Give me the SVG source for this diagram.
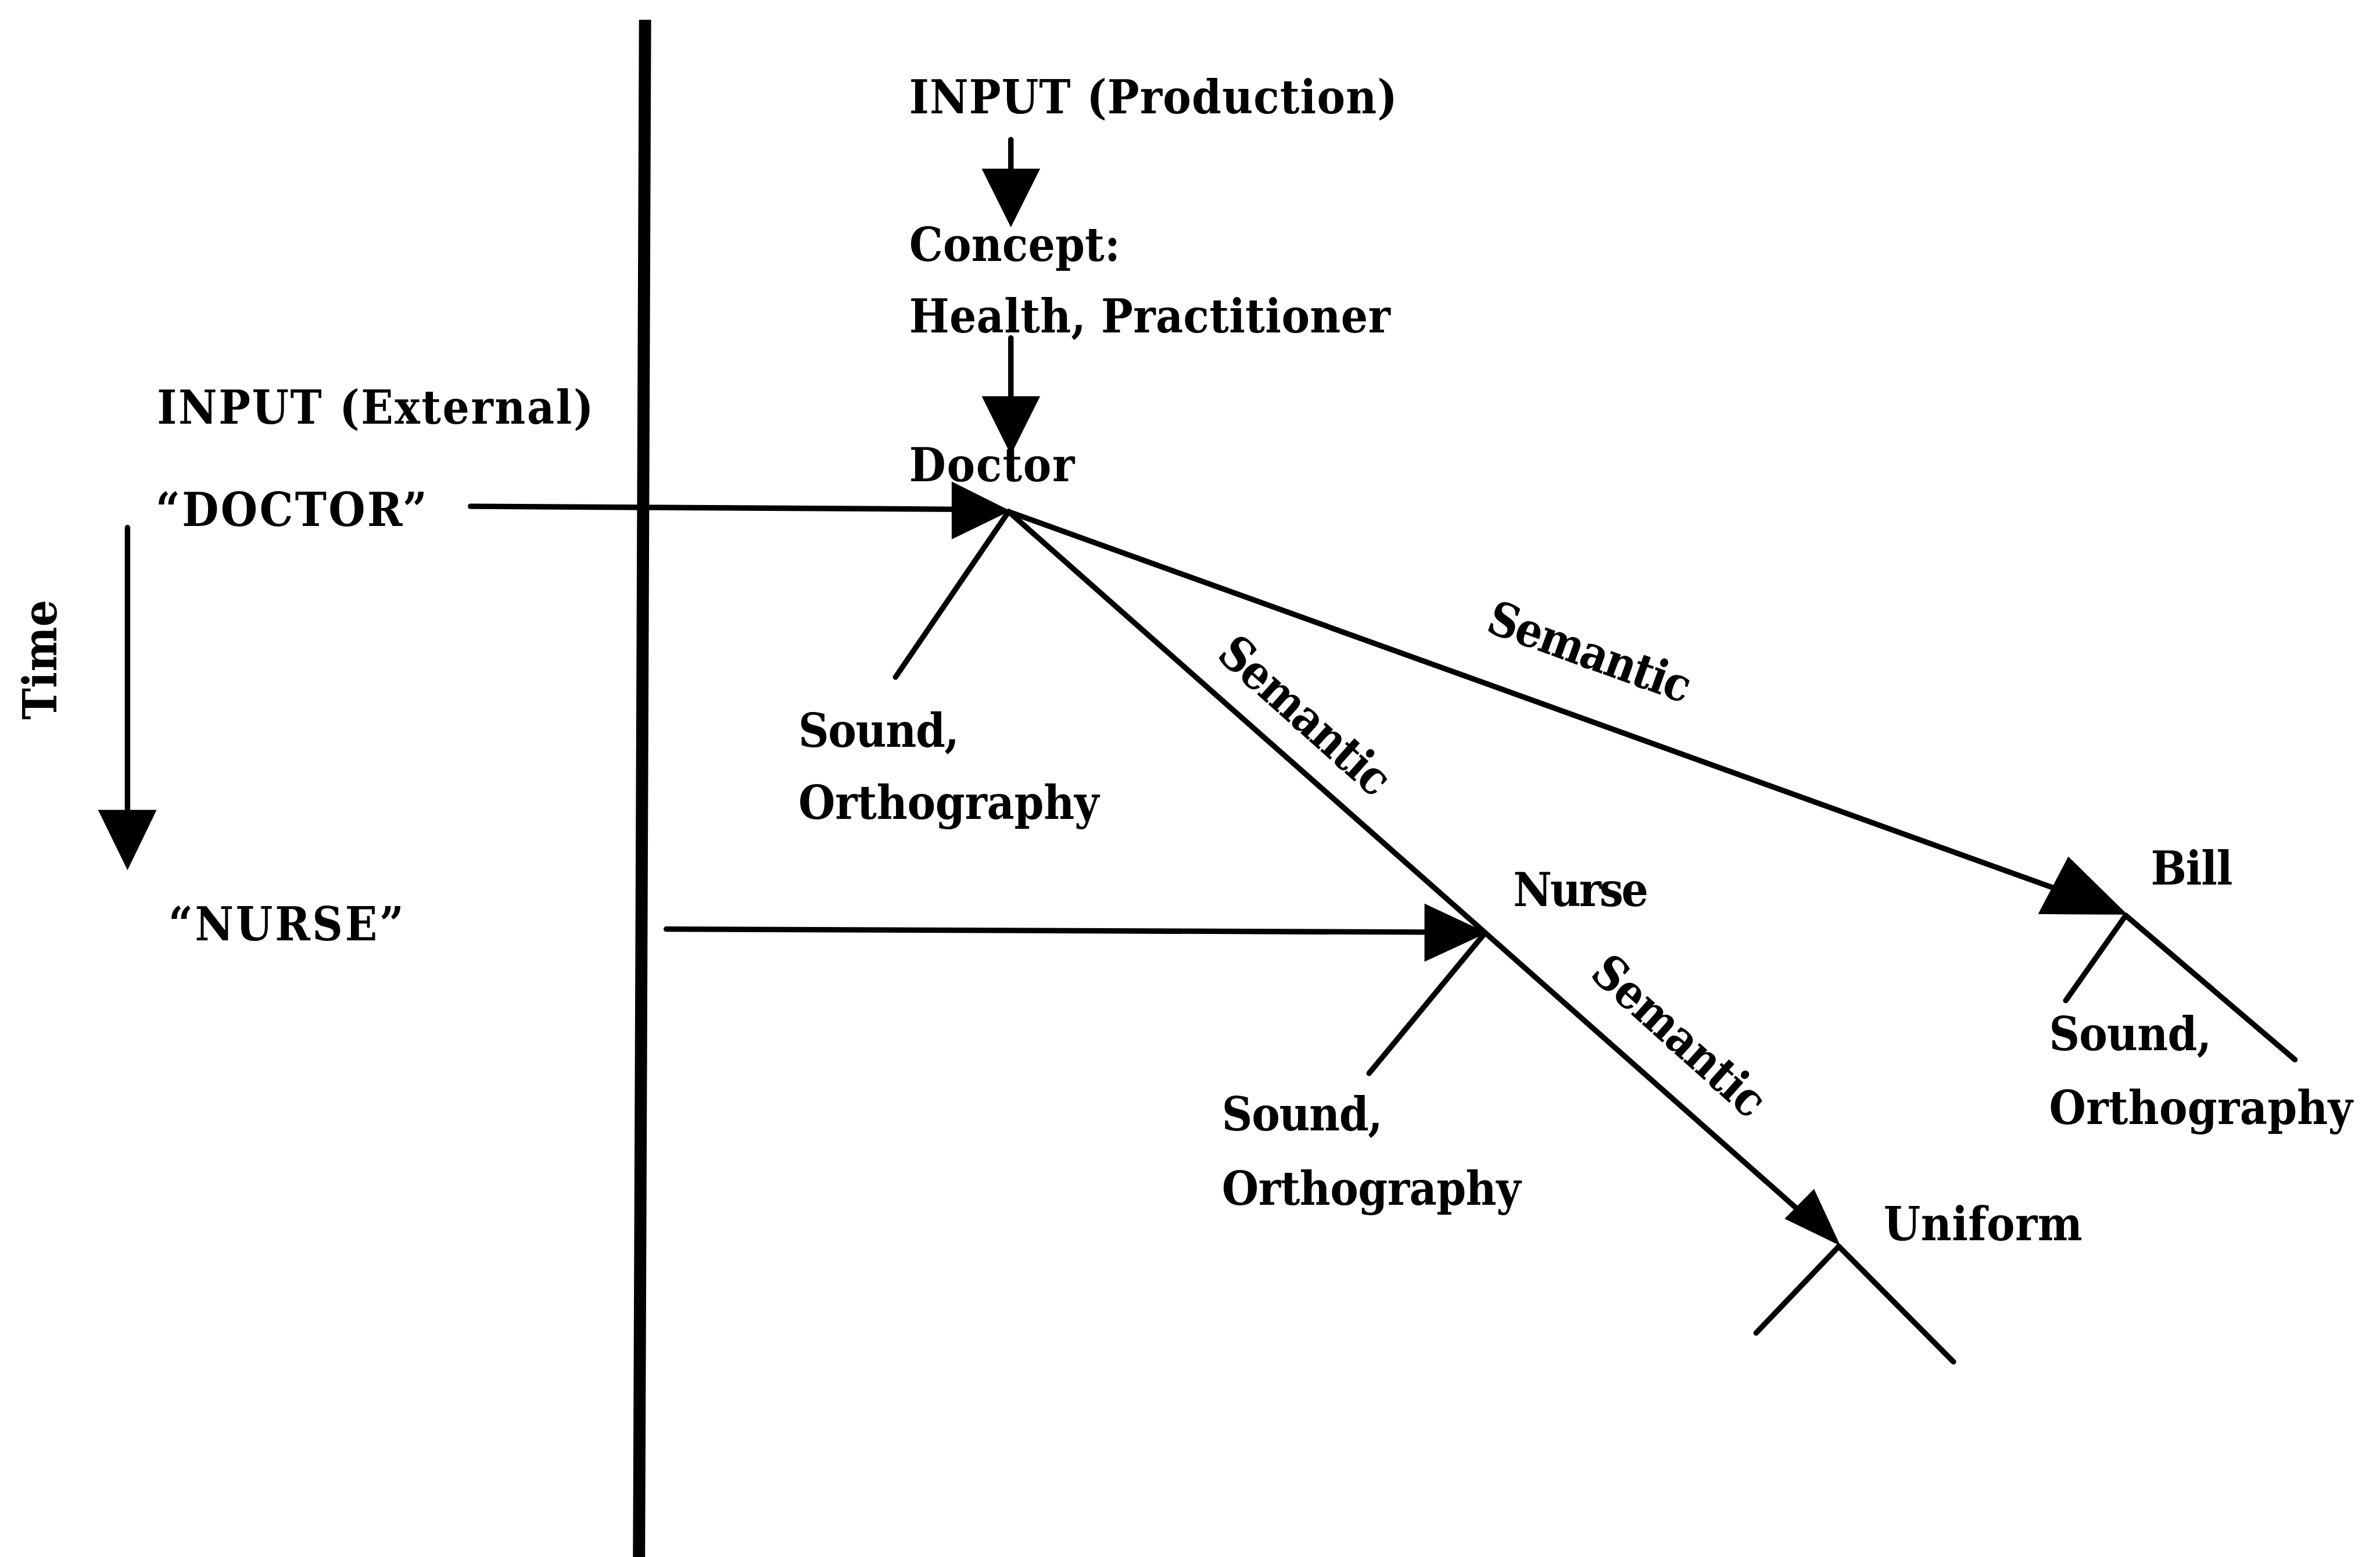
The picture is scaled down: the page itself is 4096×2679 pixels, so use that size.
<svg xmlns="http://www.w3.org/2000/svg" width="4096" height="2679" viewBox="0 0 4096 2679">
  <style>
    .ln { stroke: #000; stroke-width: 3.6; fill: none; stroke-linecap: round; stroke-linejoin: round; }
    .bar { stroke: #000; stroke-width: 8; fill: none; }
    .hd { fill: #000; stroke: #000; stroke-width: 1; stroke-linejoin: miter; }
    text { font-family: "DejaVu Serif Condensed", "DejaVu Serif", "Liberation Serif", serif; font-stretch: condensed; font-weight: bold; font-size: 31px; fill: #000; }
    .mid { text-anchor: middle; }
  </style>
  <rect width="4096" height="2679" fill="#fff"/>
  <!-- drawing laid out on a 1568-unit-wide grid, scaled up to the canvas -->
  <g transform="scale(2.6122)">
    <g id="connectors">
      <!-- boundary between external input and the lexicon -->
      <line class="bar" x1="425" y1="13" x2="421" y2="1026"/>
      <!-- production chain -->
      <line class="ln" x1="666" y1="92" x2="666" y2="116"/>
      <polygon class="hd" points="666,148.6 647.6,111.6 684.5,111.6"/>
      <line class="ln" x1="666" y1="222.6" x2="666" y2="266"/>
      <polygon class="hd" points="666,298.5 647.6,261.5 684.5,261.5"/>
      <!-- time axis -->
      <line class="ln" x1="84" y1="347.5" x2="84" y2="540"/>
      <polygon class="hd" points="84,572 65.4,534 102.4,534"/>
      <!-- external input DOCTOR -->
      <line class="ln" x1="310" y1="333.5" x2="635" y2="335.5"/>
      <polygon class="hd" points="664.5,336.5 627.5,318 627.5,354.5"/>
      <!-- external input NURSE -->
      <line class="ln" x1="439" y1="612" x2="945" y2="614"/>
      <polygon class="hd" points="978.5,614.4 939,596 939,632.7"/>
      <!-- Doctor links -->
      <line class="ln" x1="664.5" y1="337" x2="590" y2="446"/>
      <line class="ln" x1="664.5" y1="337" x2="1370" y2="591"/>
      <polygon class="hd" points="1400.5,602 1362.8,565 1343.6,601.6"/>
      <polyline class="ln" points="664.5,337 978.5,614.4 1195,806"/>
      <polygon class="hd" points="1211.5,819.5 1195,784 1176.6,802.6"/>
      <line class="ln" x1="1211.5" y1="821" x2="1287" y2="897"/>
      <!-- Nurse sound/orthography link -->
      <line class="ln" x1="978.5" y1="614.4" x2="902" y2="707"/>
      <!-- Bill links -->
      <line class="ln" x1="1400.5" y1="603" x2="1361" y2="659"/>
      <line class="ln" x1="1400.5" y1="603" x2="1512" y2="698"/>
      <!-- Uniform sound/orthography link -->
      <line class="ln" x1="1211.5" y1="821" x2="1157" y2="878"/>
      <!-- link labels -->
      <text class="mid" transform="translate(1043.8,439.5) rotate(19.9)" textLength="140">Semantic</text>
      <text class="mid" transform="translate(852.8,479.3) rotate(41.8)" textLength="140">Semantic</text>
      <text class="mid" transform="translate(1099.3,690.3) rotate(42)" textLength="142">Semantic</text>
    </g>

    <g id="input-production">
      <text x="599" y="74.6" textLength="321.6">INPUT (Production)</text>
    </g>
    <g id="concept">
      <text x="599" y="171.7" textLength="139">Concept:</text>
      <text x="599" y="219" textLength="317">Health, Practitioner</text>
    </g>
    <g id="input-external">
      <text x="103.5" y="279" textLength="287.5">INPUT (External)</text>
    </g>
    <g id="stimulus-doctor">
      <text x="102.6" y="346.5" textLength="178.7">“DOCTOR”</text>
    </g>
    <g id="stimulus-nurse">
      <text x="111" y="619.5" textLength="155">“NURSE”</text>
    </g>
    <g id="time-axis">
      <text class="mid" transform="translate(37,434.5) rotate(-90)" textLength="79">Time</text>
    </g>
    <g id="node-doctor">
      <text x="599" y="317" textLength="109">Doctor</text>
    </g>
    <g id="doctor-form">
      <text x="526" y="492" textLength="106">Sound,</text>
      <text x="526" y="539.5" textLength="198">Orthography</text>
    </g>
    <g id="node-nurse">
      <text x="997" y="597" textLength="89">Nurse</text>
    </g>
    <g id="nurse-form">
      <text x="805" y="744.5" textLength="106">Sound,</text>
      <text x="805" y="793.5" textLength="197">Orthography</text>
    </g>
    <g id="node-bill">
      <text x="1417" y="582.6" textLength="54">Bill</text>
    </g>
    <g id="bill-form">
      <text x="1350" y="691.8" textLength="107">Sound,</text>
      <text x="1350" y="740.5" textLength="200">Orthography</text>
    </g>
    <g id="node-uniform">
      <text x="1241" y="817" textLength="131">Uniform</text>
    </g>
  </g>
</svg>
